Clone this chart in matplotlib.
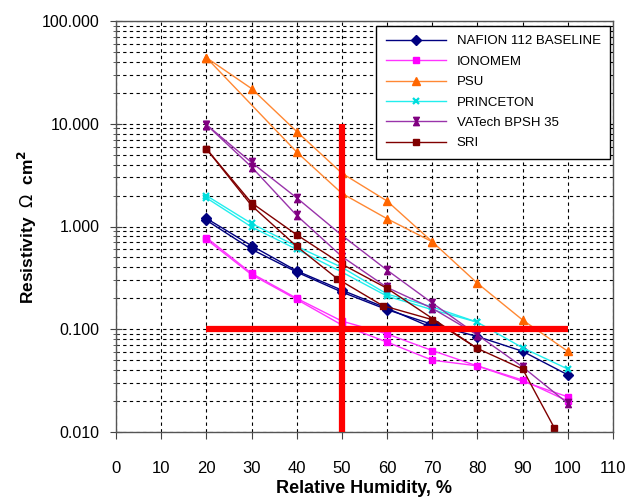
# Membrane resistivity vs relative humidity (log scale), two runs per membrane

import matplotlib
matplotlib.use("Agg")
import matplotlib.pyplot as plt
import numpy as np
from matplotlib.path import Path
from matplotlib.ticker import LogLocator, FixedLocator, NullFormatter

plt.rcParams['font.family'] = ['Liberation Sans', 'DejaVu Sans']

# Data, two curves per membrane
rh = [20, 30, 40, 50, 60, 70, 80, 90, 100]

nafion_a_x = [20, 30, 40, 50, 60, 69]
nafion_a = [1.2, 0.65, 0.37, 0.24, 0.16, 0.108]
nafion_b_x = [20, 30, 40, 50, 60, 71, 80, 90, 100]
nafion_b = [1.15, 0.6, 0.36, 0.23, 0.155, 0.108, 0.085, 0.061, 0.036]

ionomem_a_x = [20, 30, 40, 50, 60, 70, 100]
ionomem_a = [0.78, 0.35, 0.2, 0.12, 0.09, 0.062, 0.022]
ionomem_b_x = [20, 30, 40, 50, 60, 70, 80, 90, 100]
ionomem_b = [0.75, 0.34, 0.195, 0.11, 0.075, 0.05, 0.044, 0.032, 0.02]

psu_a_x = rh
psu_a = [44, 22, 8.4, 3.3, 1.77, 0.71, 0.28, 0.123, 0.061]
psu_b_x = [20, 40, 50, 60, 70]
psu_b = [44, 5.3, 2.1, 1.19, 0.71]

princeton_a_x = rh
princeton_a = [2.0, 1.07, 0.64, 0.4, 0.22, 0.165, 0.117, 0.066, 0.041]
princeton_b_x = [20, 30, 40, 50, 60, 70, 80]
princeton_b = [1.9, 0.99, 0.6, 0.36, 0.21, 0.155, 0.117]

vatech_a_x = rh
vatech_a = [9.8, 4.2, 1.9, 0.82, 0.376, 0.18, 0.088, 0.043, 0.019]
vatech_b_x = [20, 30, 40, 50, 60, 70, 80]
vatech_b = [9.8, 3.8, 1.28, 0.51, 0.255, 0.16, 0.088]

sri_a_x = [20, 30, 40, 50, 60, 80, 90, 97]
sri_a = [5.7, 1.7, 0.83, 0.43, 0.25, 0.065, 0.041, 0.011]
sri_b_x = [20, 30, 40, 49, 59, 70, 80]
sri_b = [5.7, 1.6, 0.64, 0.31, 0.17, 0.124, 0.065]

labels = ['NAFION 112 BASELINE', 'IONOMEM', 'PSU', 'PRINCETON', 'VATech BPSH 35', 'SRI']

# Target lines
target_rh = 50
target_res = 0.1
target_res_span = [0.01, 10]
target_rh_span = [20, 100]

# hourglass marker (Excel "star" look)
hourglass = Path([(-0.7, 1), (0.7, 1), (0.15, 0), (0.7, -1), (-0.7, -1), (-0.15, 0), (-0.7, 1)],
                 [Path.MOVETO] + [Path.LINETO] * 5 + [Path.CLOSEPOLY])

styles = [
    dict(color='#000080', marker='D', ms=5),
    dict(color='#FF33FF', marker='s', ms=5, mfc='#FF00FF', mec='#FF00FF'),
    dict(color='#FF8833', marker='^', ms=6, mfc='#FF6600', mec='#FF6600'),
    dict(color='#22EEEE', marker='x', ms=5, mew=1.6, mec='#00DDDD'),
    dict(color='#9933AA', marker=hourglass, ms=6, mfc='#800080', mec='#800080'),
    dict(color='#800000', marker='s', ms=4.5),
]

series = [
    (nafion_a_x, nafion_a, nafion_b_x, nafion_b),
    (ionomem_a_x, ionomem_a, ionomem_b_x, ionomem_b),
    (psu_a_x, psu_a, psu_b_x, psu_b),
    (princeton_a_x, princeton_a, princeton_b_x, princeton_b),
    (vatech_a_x, vatech_a, vatech_b_x, vatech_b),
    (sri_a_x, sri_a, sri_b_x, sri_b),
]

fig = plt.figure(figsize=(6.27, 4.97), dpi=100)
ax = fig.add_axes([116 / 627, 1 - 432 / 497, 497 / 627, 411 / 497])

handles = []
for (xa, ya, xb, yb), st, lab in zip(series, styles, labels):
    h, = ax.plot(xa, ya, lw=1, label=lab, **st)
    ax.plot(xb, yb, lw=1, **st)
    handles.append(h)

ax.vlines(target_rh, *target_res_span, color='red', lw=4.5, zorder=5)
ax.hlines(target_res, *target_rh_span, color='red', lw=4.5, zorder=5)

ax.set_yscale('log')
ax.set_ylim(0.01, 100)
ax.set_xlim(0, 110)
ax.xaxis.set_major_locator(FixedLocator(np.arange(0, 111, 10)))
ax.yaxis.set_minor_locator(LogLocator(base=10, subs=np.arange(2, 10), numticks=10))
ax.yaxis.set_minor_formatter(NullFormatter())
yt = [0.01, 0.1, 1, 10, 100]
ax.set_yticks(yt)
ax.set_yticklabels(['%.3f' % v for v in yt])

ax.grid(True, which='major', axis='x', color='black', lw=0.8, ls=(0, (3, 3)))
ax.grid(True, which='both', axis='y', color='black', lw=0.8, ls=(0, (3, 3)))
ax.set_axisbelow(True)

ax.tick_params(axis='x', which='major', direction='out', length=5, pad=16,
               labelsize=12, color='#444444')
ax.tick_params(axis='y', which='major', direction='inout', length=8, pad=8,
               labelsize=11.5, color='#444444')
ax.tick_params(axis='y', which='minor', direction='inout', length=5, color='#444444')
for sp in ax.spines.values():
    sp.set_color('#555555')
    sp.set_linewidth(1)

ax.set_xlabel('Relative Humidity, %', fontsize=13, fontweight='bold', labelpad=3)
ax.set_ylabel(r'Resistivity  $\Omega$  cm$^{\mathbf{2}}$', fontsize=12.5,
              fontweight='bold', labelpad=2)

leg = ax.legend(handles=handles, loc='upper right', bbox_to_anchor=(0.994, 0.988),
                fontsize=9.5, handlelength=4.6, labelspacing=0.62, borderpad=0.7,
                fancybox=False, framealpha=1, edgecolor='black', borderaxespad=0)
leg.get_frame().set_linewidth(1)
leg.set_zorder(10)

plt.savefig('out.png', dpi=100)
